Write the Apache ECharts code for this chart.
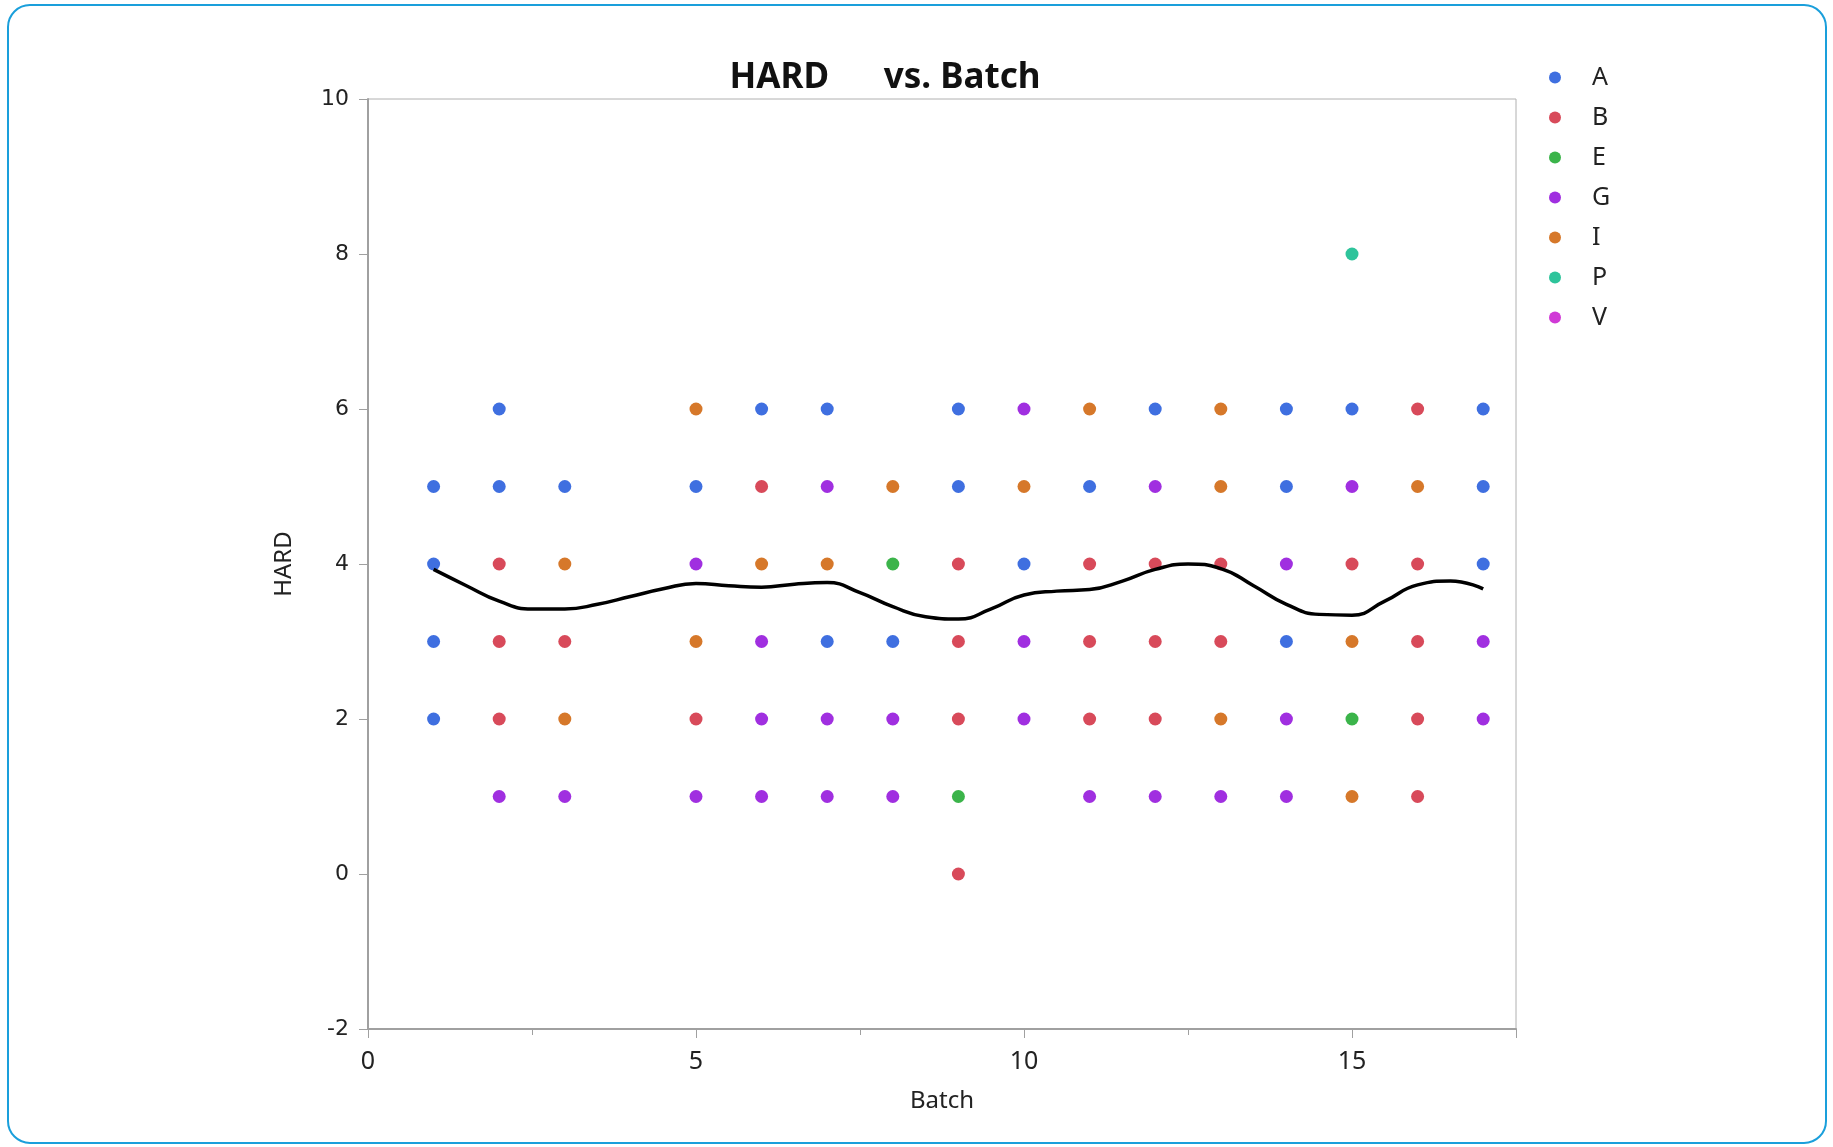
<!DOCTYPE html>
<html>
<head>
<meta charset="utf-8">
<script src="https://cdn.jsdelivr.net/npm/echarts@6/dist/echarts.min.js"></script>
<style>
html,body{margin:0;padding:0;background:#fff;}
#chart{width:1833px;height:1147px;}
</style>
</head>
<body>
<div id="chart"></div>
<script>
// ---- data ----
const groups = ['A', 'B', 'E', 'G', 'I', 'P', 'V'];
const groupColors = ['#3f6fe0', '#d84a5a', '#3bb44a', '#a02fe0', '#d6782a', '#2ec49b', '#d03ad6'];

const pointsA = [[2,6],[6,6],[7,6],[9,6],[12,6],[14,6],[15,6],[17,6],
                 [1,5],[2,5],[3,5],[5,5],[9,5],[11,5],[14,5],[17,5],
                 [1,4],[10,4],[17,4],
                 [1,3],[7,3],[8,3],[14,3],
                 [1,2]];
const pointsB = [[16,6],[6,5],
                 [2,4],[9,4],[11,4],[12,4],[13,4],[15,4],[16,4],
                 [2,3],[3,3],[9,3],[11,3],[12,3],[13,3],[16,3],
                 [2,2],[5,2],[9,2],[11,2],[12,2],[16,2],
                 [16,1],[9,0]];
const pointsE = [[8,4],[15,2],[9,1]];
const pointsG = [[10,6],[7,5],[12,5],[15,5],[5,4],[14,4],
                 [6,3],[10,3],[17,3],
                 [6,2],[7,2],[8,2],[10,2],[14,2],[17,2],
                 [2,1],[3,1],[5,1],[6,1],[7,1],[8,1],[11,1],[12,1],[13,1],[14,1]];
const pointsI = [[5,6],[11,6],[13,6],[8,5],[10,5],[13,5],[16,5],
                 [3,4],[6,4],[7,4],[5,3],[15,3],[3,2],[13,2],[15,1]];
const pointsP = [[15,8]];
const pointsV = [];

const smoothBatch = [1,1.5,2,2.5,3,3.5,4,4.5,5,5.5,6,6.5,7,7.5,8,8.5,9,9.5,10,10.5,11,11.5,12,12.5,13,13.5,14,14.5,15,15.5,16,16.5,17];
const smoothHard  = [3.93,3.72,3.52,3.42,3.42,3.48,3.58,3.68,3.75,3.72,3.70,3.74,3.76,3.63,3.45,3.32,3.29,3.42,3.60,3.65,3.67,3.78,3.93,4.00,3.94,3.72,3.48,3.35,3.34,3.52,3.73,3.78,3.68];

const yTicks = [-2, 0, 2, 4, 6, 8, 10];
const xTickLabels = [0, 5, 10, 15];

// ---- chart ----
const allPoints = [pointsA, pointsB, pointsE, pointsG, pointsI, pointsP, pointsV];
const chart = echarts.init(document.getElementById('chart'), null, {renderer: 'canvas'});

const scatterSeries = groups.map((g, i) => ({
  name: g,
  type: 'scatter',
  data: allPoints[i],
  symbol: 'circle',
  symbolSize: 13,
  itemStyle: {color: groupColors[i], opacity: 1},
  z: 3
}));

const smoothLine = smoothBatch.map((b, i) => [b, smoothHard[i]]);

chart.setOption({
  animation: false,
  backgroundColor: '#ffffff',
  graphic: [{
    type: 'rect',
    shape: {x: 8, y: 5, width: 1818, height: 1138, r: 22},
    style: {fill: 'none', stroke: '#1a9fdb', lineWidth: 2},
    silent: true,
    z: -1
  }],
  title: {
    text: 'HARD      vs. Batch',
    left: 880,
    top: 56,
    textAlign: 'center',
    textStyle: {fontFamily: 'Noto Sans', fontWeight: 'bold', fontSize: 35, color: '#111'}
  },
  legend: {
    data: groups,
    orient: 'vertical',
    left: 1544,
    top: 60,
    itemWidth: 40,
    itemHeight: 12,
    itemGap: 15,
    icon: 'circle',
    textStyle: {fontFamily: 'Noto Sans', fontSize: 25, lineHeight: 24, color: '#222', padding: [0, 0, 0, 12]}
  },
  grid: {
    left: 368, top: 99, right: 317, bottom: 118,
    show: true, borderColor: '#b0b0b0', borderWidth: 1,
    containLabel: false
  },
  xAxis: {
    type: 'value',
    min: 0, max: 17.5, interval: 5,
    name: 'Batch',
    nameLocation: 'middle',
    nameGap: 60,
    nameTextStyle: {fontFamily: 'Noto Sans', fontSize: 24, color: '#222'},
    axisLine: {show: true, onZero: false, lineStyle: {color: '#a0a0a0', width: 2}},
    axisTick: {show: true, length: 9, lineStyle: {color: '#a0a0a0'}},
    minorTick: {show: true, splitNumber: 2, length: 6, lineStyle: {color: '#a0a0a0'}},
    splitLine: {show: false},
    axisLabel: {
      fontFamily: 'Noto Sans', fontSize: 25, color: '#222', margin: 20,
      formatter: v => (xTickLabels.indexOf(v) >= 0 ? String(v) : '')
    }
  },
  yAxis: {
    type: 'value',
    min: yTicks[0], max: yTicks[yTicks.length - 1], interval: 2,
    name: 'HARD',
    nameLocation: 'middle',
    nameGap: 72,
    nameTextStyle: {fontFamily: 'Noto Sans', fontSize: 24, color: '#222'},
    axisLine: {show: true, onZero: false, lineStyle: {color: '#a0a0a0', width: 2}},
    axisTick: {show: true, length: 9, lineStyle: {color: '#a0a0a0'}},
    splitLine: {show: false},
    axisLabel: {fontFamily: 'DejaVu Sans', fontSize: 22, color: '#222', margin: 19}
  },
  series: scatterSeries.concat([{
    name: 'smoother',
    type: 'line',
    data: smoothLine,
    smooth: 0.5,
    showSymbol: false,
    symbol: 'none',
    lineStyle: {color: '#000', width: 3.5},
    z: 4,
    silent: true
  }])
});
</script>
</body>
</html>
